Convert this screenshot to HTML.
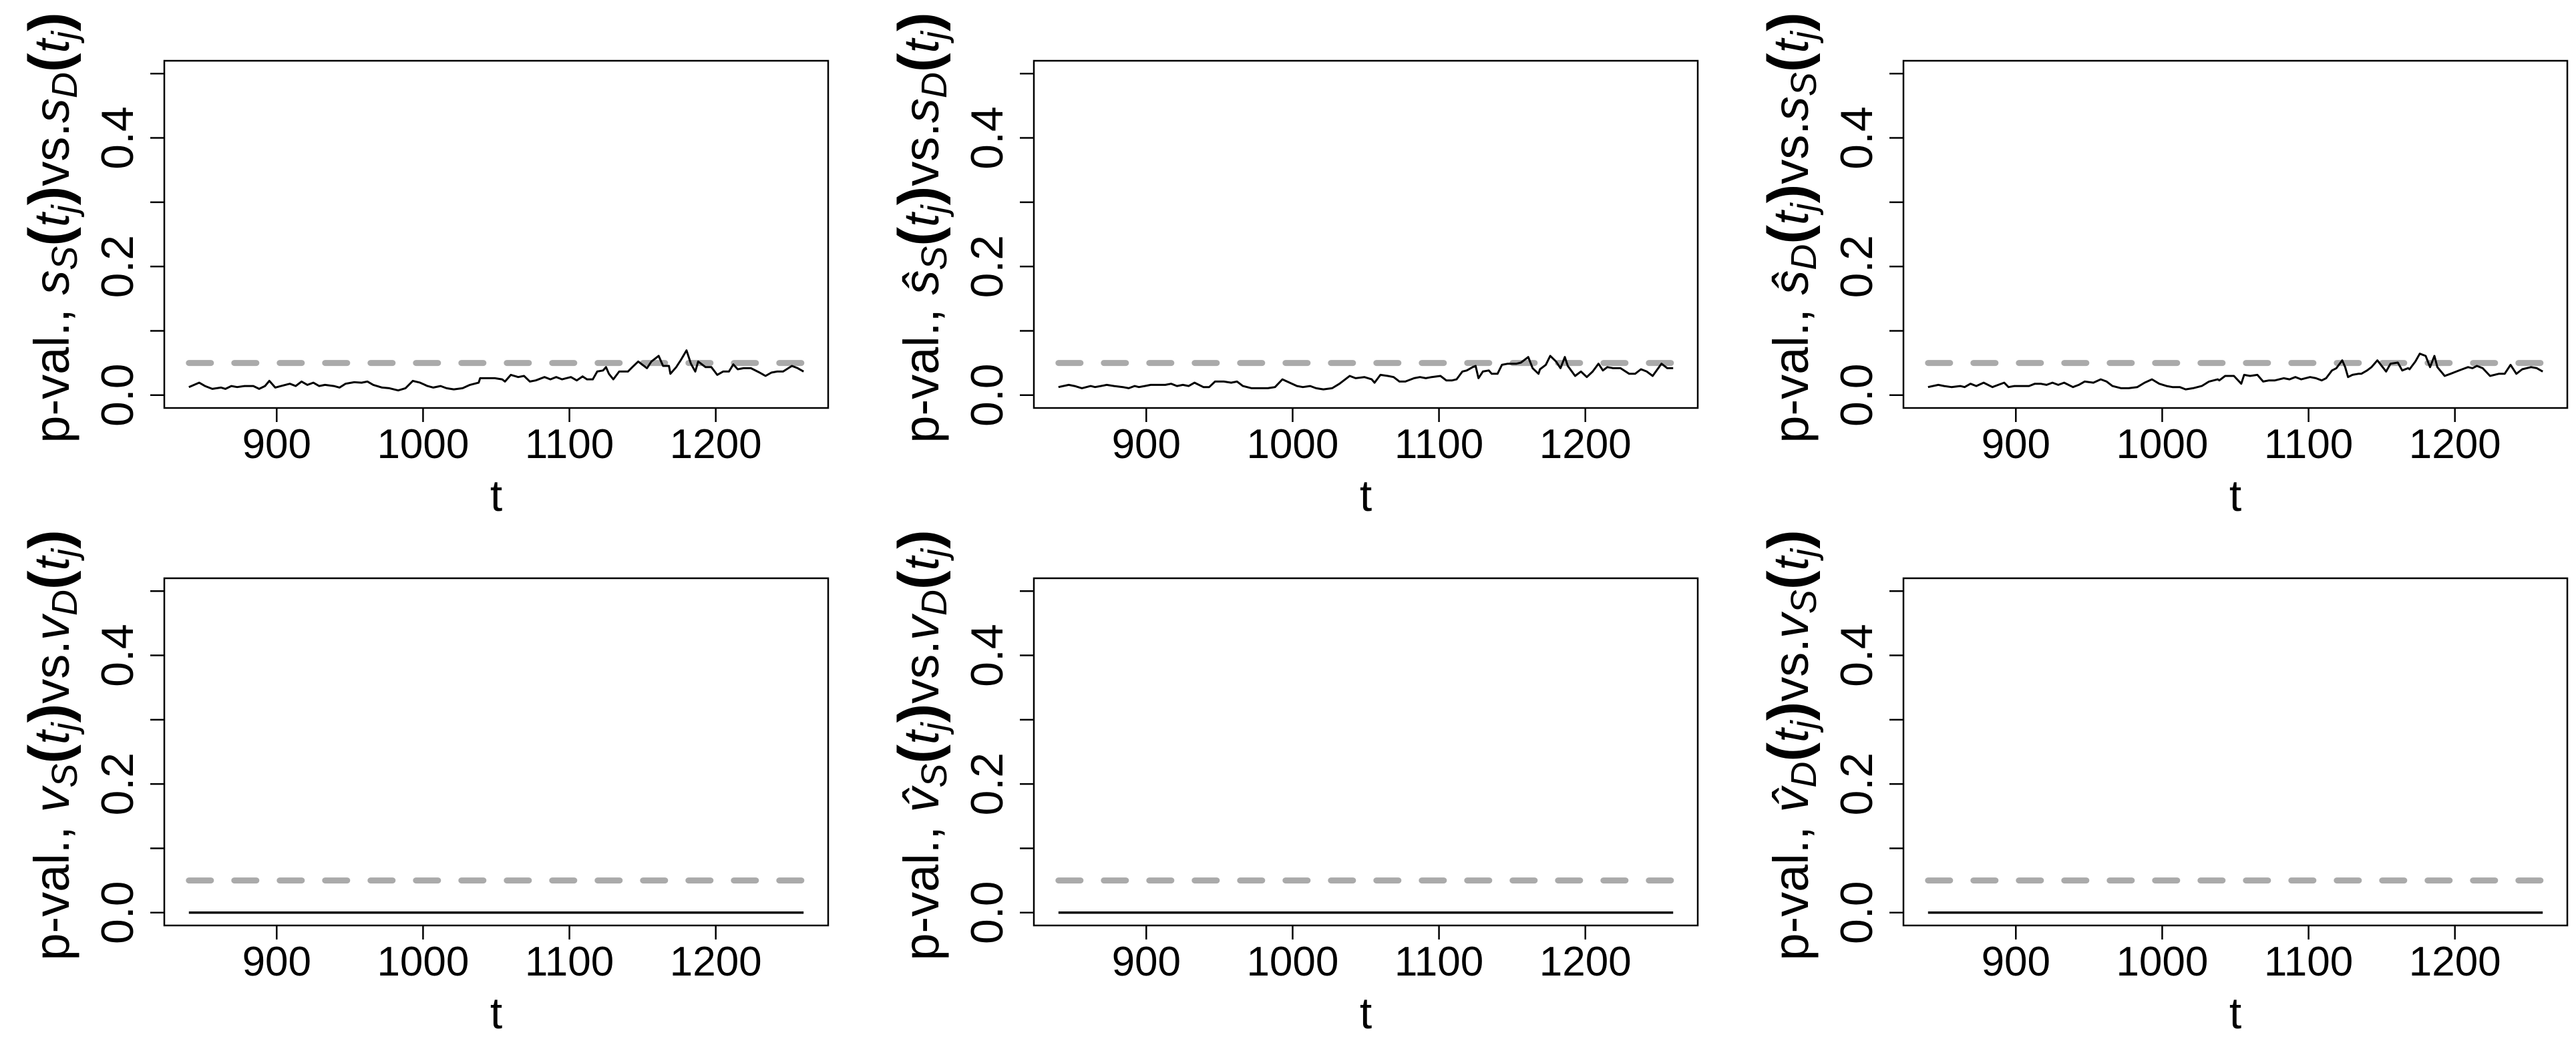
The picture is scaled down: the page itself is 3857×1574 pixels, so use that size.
<!DOCTYPE html>
<html><head><meta charset="utf-8"><style>
html,body{margin:0;padding:0;background:#fff;}
svg{display:block;font-family:"Liberation Sans",Arial,sans-serif;}
</style></head><body>
<svg id="fig" width="3857" height="1574" viewBox="0 0 3857 1574" xmlns="http://www.w3.org/2000/svg"></svg>
<script>
const tGrid = [840,847,851,856,862,865,869,873,878,884,888,892,895,899,903,909,913,917,921,925,929,933,939,943,947,953,958,962,966,972,977,983,988,993,998,1003,1007,1012,1016,1021,1027,1032,1038,1039,1043,1049,1054,1056,1060,1065,1069,1073,1077,1083,1087,1091,1095,1101,1105,1109,1112,1116,1119,1123,1125,1127,1130,1134,1136,1140,1143,1147,1153,1156,1161,1164,1168,1169,1173,1176,1180,1183,1186,1188,1193,1197,1201,1205,1209,1212,1215,1219,1224,1230,1234,1238,1242,1246,1252,1256,1260];
const pvalSS_SD = [.0125,.0194,.0142,.0097,.0118,.0097,.0142,.0125,.0142,.0142,.0097,.0142,.0222,.0118,.0142,.0177,.0142,.0211,.0159,.0194,.0142,.0159,.0142,.0118,.0177,.0201,.0194,.0211,.0159,.0118,.0107,.0073,.0107,.0222,.0194,.0142,.0118,.0142,.0107,.0090,.0107,.0159,.0194,.0263,.0263,.0263,.0246,.0211,.0315,.0281,.0298,.0211,.0229,.0281,.0246,.0281,.0246,.0281,.0229,.0291,.0246,.0246,.0367,.0384,.0436,.0332,.0246,.0367,.0367,.0367,.0436,.0523,.0419,.0523,.0610,.0454,.0454,.0332,.0436,.0540,.0696,.0488,.0367,.0523,.0436,.0436,.0315,.0367,.0367,.0478,.0402,.0419,.0419,.0350,.0298,.0350,.0367,.0367,.0454,.0419,.0367];
const pvalHatSS_SD = [.0125,.0159,.0142,.0107,.0142,.0125,.0142,.0159,.0142,.0125,.0107,.0142,.0125,.0142,.0159,.0159,.0159,.0177,.0142,.0159,.0142,.0194,.0125,.0125,.0211,.0211,.0194,.0211,.0142,.0107,.0107,.0107,.0125,.0246,.0194,.0142,.0125,.0142,.0107,.0090,.0107,.0177,.0281,.0298,.0263,.0281,.0246,.0194,.0315,.0298,.0281,.0211,.0211,.0263,.0281,.0263,.0281,.0298,.0229,.0229,.0246,.0367,.0384,.0436,.0454,.0263,.0367,.0384,.0332,.0332,.0471,.0488,.0488,.0506,.0592,.0419,.0332,.0402,.0471,.0610,.0523,.0419,.0592,.0454,.0298,.0367,.0281,.0367,.0488,.0384,.0436,.0419,.0419,.0332,.0332,.0402,.0367,.0298,.0488,.0419,.0419];
const pvalHatSD_SS = [.0125,.0159,.0142,.0125,.0142,.0125,.0177,.0142,.0194,.0125,.0159,.0194,.0125,.0142,.0142,.0142,.0177,.0177,.0159,.0194,.0159,.0194,.0125,.0159,.0211,.0194,.0246,.0211,.0142,.0107,.0107,.0125,.0194,.0246,.0177,.0142,.0125,.0125,.0090,.0107,.0142,.0211,.0246,.0229,.0298,.0298,.0177,.0315,.0298,.0315,.0211,.0229,.0229,.0263,.0246,.0281,.0246,.0281,.0263,.0229,.0263,.0384,.0419,.0540,.0436,.0281,.0315,.0332,.0332,.0384,.0436,.0540,.0367,.0488,.0506,.0384,.0419,.0402,.0523,.0644,.0610,.0436,.0610,.0436,.0298,.0332,.0367,.0402,.0436,.0419,.0454,.0419,.0298,.0332,.0332,.0471,.0332,.0402,.0436,.0419,.0367];
const zeroT = [840,1260];
const zeroVals = [0,0];
const threshold = [0.05];
const xTicks = [900,1000,1100,1200];
const yTicks = [0,0.1,0.2,0.3,0.4,0.5];
const yTickLabels = ["0.0","","0.2","","0.4",""];

const NS='http://www.w3.org/2000/svg';
const svg=document.getElementById('fig');
function mk(tag,attrs,parent){const e=document.createElementNS(NS,tag);for(const k in attrs)e.setAttribute(k,attrs[k]);(parent||svg).appendChild(e);return e;}

const panels=[
 {col:0,row:0,t:tGrid,v:pvalSS_SD,a:'s',ah:false,b:'s',sa:'S',sb:'D',name:'ss-vs-sd'},
 {col:1,row:0,t:tGrid,v:pvalHatSS_SD,a:'s',ah:true,b:'s',sa:'S',sb:'D',name:'hat-ss-vs-sd'},
 {col:2,row:0,t:tGrid,v:pvalHatSD_SS,a:'s',ah:true,b:'s',sa:'D',sb:'S',name:'hat-sd-vs-ss'},
 {col:0,row:1,t:zeroT,v:zeroVals,a:'v',ah:false,b:'v',sa:'S',sb:'D',name:'vs-vs-vd'},
 {col:1,row:1,t:zeroT,v:zeroVals,a:'v',ah:true,b:'v',sa:'S',sb:'D',name:'hat-vs-vs-vd'},
 {col:2,row:1,t:zeroT,v:zeroVals,a:'v',ah:true,b:'v',sa:'D',sb:'S',name:'hat-vd-vs-vs'}
];

panels.forEach(p=>{
  const ox=p.col*1302, oy=p.row*775;
  const L=246+ox, R=1240+ox, T=91+oy, B=611+oy;
  const xS=t=>L+(t-823.2)/(1276.8-823.2)*(R-L);
  const yS=v=>B-(v+0.02)/0.54*(B-T);
  const g=mk('g',{});
  
  
  const th=mk('line',{x1:xS(840),x2:xS(1260),y1:yS(threshold[0]),y2:yS(threshold[0]),stroke:'#aaaaaa','stroke-width':9,'stroke-dasharray':'33 35','stroke-linecap':'round'},g);
  
  
  const pts=p.t.map((t,i)=>xS(t).toFixed(1)+','+yS(p.v[i]).toFixed(1)).join(' ');
  const pl=mk('polyline',{points:pts,fill:'none',stroke:'#000','stroke-width':p.row?3.5:3,'stroke-linejoin':'round'},g);
  
  
  const bx=mk('rect',{x:L,y:T,width:R-L,height:B-T,fill:'none',stroke:'#000','stroke-width':2.5},g);
  
  
  xTicks.forEach(t=>{
    const tk=mk('line',{x1:xS(t),x2:xS(t),y1:B,y2:B+21,stroke:'#000','stroke-width':2.5},g);
    
    
    const tl=mk('text',{x:xS(t),y:686+oy,'font-size':62,'text-anchor':'middle'},g);
    tl.textContent=t;
    
    
  });
  yTicks.forEach((v,i)=>{
    const tk=mk('line',{x1:L-21,x2:L,y1:yS(v),y2:yS(v),stroke:'#000','stroke-width':2.5},g);
    
    
    if(yTickLabels[i]){
      const tl=mk('text',{transform:`translate(${L-47},${yS(v)}) rotate(-90)`,'font-size':68,'text-anchor':'middle'},g);
      tl.textContent=yTickLabels[i];
      
      
    }
  });
  const xl=mk('text',{x:(L+R)/2,y:765+oy,'font-size':66,'text-anchor':'middle'},g);
  xl.textContent='t';
  
  
  const yt=mk('text',{transform:`translate(${L-143},${(T+B)/2-10}) rotate(-90)`,'font-size':74,'text-anchor':'middle'},g);
  
  
  const part=(txt,style)=>{const s=mk('tspan',style||{},yt);s.textContent=txt;return s;};
  part('p-val., ');
  part((p.ah?(p.a==='s'?'ŝ':'v̂'):p.a),{'font-style':'italic'});
  part(p.sa,{'font-style':'italic','font-size':54,dy:12});
  part('(',{'font-weight':'bold',dy:-12,'font-size':86});
  part('t',{'font-style':'italic'});
  part('j',{'font-style':'italic','font-size':54,dy:12});
  part(')',{'font-weight':'bold',dy:-12,'font-size':86});
  part('vs.');
  part(p.b,{'font-style':'italic'});
  part(p.sb,{'font-style':'italic','font-size':54,dy:12});
  part('(',{'font-weight':'bold',dy:-12,'font-size':86});
  part('t',{'font-style':'italic'});
  part('j',{'font-style':'italic','font-size':54,dy:12});
  part(')',{'font-weight':'bold',dy:-12,'font-size':86});
});
</script>
</body></html>
